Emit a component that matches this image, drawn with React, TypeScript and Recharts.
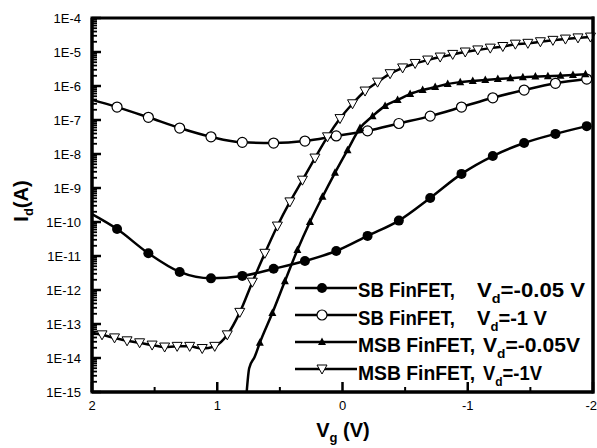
import React from 'react';
import { LineChart, Line, XAxis, YAxis, Legend, ReferenceArea } from 'recharts';

const FONT = '"Liberation Sans", Arial, sans-serif';

// gate voltage samples (V) and drain current (A)
const VG_SB = [2, 1.8, 1.55, 1.3, 1.05, 0.8, 0.55, 0.3, 0.05, -0.2, -0.45, -0.7, -0.95, -1.2, -1.45, -1.7, -1.95];
const ID_SB_005 = [1.7e-10, 6.2e-11, 1.2e-11, 3.4e-12, 2.2e-12, 2.6e-12, 4.2e-12, 7.1e-12, 1.4e-11, 3.9e-11, 1.1e-10, 5.1e-10, 2.6e-9, 8.7e-9, 2.1e-8, 3.9e-8, 6.6e-8];
const ID_SB_1 = [3.9e-7, 2.4e-7, 1.2e-7, 5.8e-8, 3.2e-8, 2.2e-8, 2.1e-8, 2.4e-8, 3.4e-8, 4.8e-8, 7.9e-8, 1.3e-7, 2.4e-7, 4.5e-7, 7.6e-7, 1.2e-6, 1.6e-6];

const VG_MSB_005 = [0.765, 0.745, 0.7, 0.66, 0.56, 0.46, 0.36, 0.26, 0.16, 0.06, -0.04, -0.14, -0.24, -0.34, -0.44, -0.54, -0.64, -0.74, -0.84, -0.94, -1.04, -1.14, -1.24, -1.34, -1.44, -1.54, -1.64, -1.74, -1.84, -1.94];
const ID_MSB_005 = [1e-15, 5e-15, 1.1e-14, 2.8e-14, 2.1e-13, 1.8e-12, 1.5e-11, 1.0e-10, 5.5e-10, 2.8e-9, 1.3e-8, 5.8e-8, 1.3e-7, 2.6e-7, 3.9e-7, 5.8e-7, 7.6e-7, 9.3e-7, 1.15e-6, 1.3e-6, 1.4e-6, 1.5e-6, 1.6e-6, 1.7e-6, 1.8e-6, 1.9e-6, 1.95e-6, 2.0e-6, 2.1e-6, 2.2e-6];

const VG_MSB_1 = [2, 1.92, 1.82, 1.72, 1.62, 1.52, 1.42, 1.32, 1.22, 1.12, 1.02, 0.92, 0.82, 0.72, 0.62, 0.52, 0.42, 0.32, 0.22, 0.12, 0.02, -0.08, -0.18, -0.28, -0.38, -0.48, -0.58, -0.68, -0.78, -0.88, -0.98, -1.08, -1.18, -1.28, -1.38, -1.48, -1.58, -1.68, -1.78, -1.88, -1.98];
const ID_MSB_1 = [5.5e-14, 4.8e-14, 3.9e-14, 3.2e-14, 2.8e-14, 2.4e-14, 2.1e-14, 2.2e-14, 2.2e-14, 1.9e-14, 2.2e-14, 4.8e-14, 2.2e-13, 1.7e-12, 1.2e-11, 7.6e-11, 3.9e-10, 1.7e-9, 7.6e-9, 3.2e-8, 1.1e-7, 3.0e-7, 7.1e-7, 1.3e-6, 2.3e-6, 3.4e-6, 4.6e-6, 5.8e-6, 7.1e-6, 8.5e-6, 1.0e-5, 1.15e-5, 1.3e-5, 1.45e-5, 1.7e-5, 1.8e-5, 2.0e-5, 2.2e-5, 2.4e-5, 2.6e-5, 2.75e-5];

const X_TICKS = [2, 1.5, 1, 0.5, 0, -0.5, -1, -1.5, -2];
const X_LABELS = [2, 1, 0, -1, -2];
const Y_DECADES = [-15, -14, -13, -12, -11, -10, -9, -8, -7, -6, -5, -4];
const Y_MINOR = [2, 3, 4, 5, 6, 7, 8, 9];

const Y_TICKS: number[] = [];
Y_DECADES.forEach((e) => {
  Y_TICKS.push(Math.pow(10, e));
  if (e < -4) Y_MINOR.forEach((m) => Y_TICKS.push(m * Math.pow(10, e)));
});

const toRows = (vg: number[], id: number[]) => vg.map((v, k) => ({ vg: v, id: id[k] }));

type Kind = 'disc' | 'circle' | 'tri' | 'itri';

function Marker({ kind, cx, cy }: { kind: Kind; cx: number; cy: number }) {
  if (kind === 'disc') return <circle cx={cx} cy={cy} r={5} fill="#000" />;
  if (kind === 'circle')
    return <circle cx={cx} cy={cy} r={5} fill="#fff" stroke="#000" strokeWidth={1.2} />;
  if (kind === 'tri')
    return <polygon points={`${cx},${cy - 4.5} ${cx - 4},${cy + 3} ${cx + 4},${cy + 3}`} fill="#000" />;
  return (
    <polygon
      points={`${cx - 5},${cy - 4} ${cx + 5},${cy - 4} ${cx},${cy + 5}`}
      fill="#fff"
      stroke="#000"
      strokeWidth={1}
    />
  );
}

// first `skip` points are line only, no marker
const dotFor = (kind: Kind, skip: number) => (p: any) => {
  const { cx, cy, index } = p;
  if (index < skip || cx == null || cy == null) return <g key={`n-${index}`} />;
  return (
    <g key={`m-${index}`}>
      <Marker kind={kind} cx={cx} cy={cy} />
    </g>
  );
};

const isDecade = (v: number) => {
  const l = Math.log10(v);
  return Math.abs(l - Math.round(l)) < 1e-6;
};

function YTick(props: any) {
  const { x, y, payload } = props;
  const major = isDecade(payload.value);
  return (
    <g>
      <line x1={x} x2={x + (major ? 9 : 5)} y1={y} y2={y} stroke="#000" strokeWidth={major ? 2.5 : 1.8} />
      {major && (
        <text x={81} y={y + 4.6} textAnchor="end" fontSize={13} fontFamily={FONT} fill="#000">
          {`1E${Math.round(Math.log10(payload.value))}`}
        </text>
      )}
    </g>
  );
}

function XTick(props: any) {
  const { x, y, payload } = props;
  const major = X_LABELS.includes(payload.value);
  const last = payload.value === -2;
  return (
    <g>
      <line x1={x} x2={x} y1={y} y2={y - (major ? 10 : 5)} stroke="#000" strokeWidth={major ? 2.5 : 2} />
      {major && (
        <text
          x={last ? 597 : x}
          y={y + 17.5}
          textAnchor={last ? 'end' : 'middle'}
          fontSize={13}
          fontFamily={FONT}
          fill="#000"
        >
          {payload.value}
        </text>
      )}
    </g>
  );
}

const LEGEND = [
  { kind: 'disc' as Kind, name: 'SB FinFET,', nameLen: 97, vx: 187, rest: '=-0.05 V', restLen: 108 },
  { kind: 'circle' as Kind, name: 'SB FinFET,', nameLen: 97, vx: 187, rest: '=-1 V', restLen: 70 },
  { kind: 'tri' as Kind, name: 'MSB FinFET,', nameLen: 117, vx: 193, rest: '=-0.05V', restLen: 97 },
  { kind: 'itri' as Kind, name: 'MSB FinFET,', nameLen: 117, vx: 193, rest: '=-1V', restLen: 59 },
];

function LegendBox() {
  return (
    <svg width={300} height={112} style={{ display: 'block', overflow: 'visible' }}>
      {/* right edge of the plot frame, drawn on the overlay so it stays on top */}
      <line x1={303} x2={303} y1={-258.5} y2={118.5} stroke="#000" strokeWidth={3} />
      {LEGEND.map((r, k) => {
        const ly = 13 + k * 27;
        const by = 22 + k * 27.5;
        return (
          <g key={k} fontFamily={FONT} fontWeight="bold" fill="#000">
            <line x1={5} x2={67} y1={ly} y2={ly} stroke="#000" strokeWidth={2.5} />
            <Marker kind={r.kind} cx={32} cy={ly} />
            <text x={68} y={by} fontSize={20} textLength={r.nameLen} lengthAdjust="spacingAndGlyphs">
              {r.name}
            </text>
            <text x={r.vx} y={by} fontSize={20} textLength={r.restLen} lengthAdjust="spacingAndGlyphs">
              V<tspan dy={6} fontSize={13}>d</tspan>
              <tspan dy={-6}>{r.rest}</tspan>
            </text>
          </g>
        );
      })}
    </svg>
  );
}

function XTitle() {
  return (
    <text x={343} y={437} textAnchor="middle" fontFamily={FONT} fontWeight="bold" fontSize={20} fill="#000">
      V<tspan dy={5} fontSize={13}>g</tspan>
      <tspan dy={-5}> (V)</tspan>
    </text>
  );
}

function YTitle() {
  return (
    <text
      transform="translate(28,201) rotate(-90)"
      textAnchor="middle"
      fontFamily={FONT}
      fontWeight="bold"
      fontSize={20}
      fill="#000"
    >
      I<tspan dy={5} fontSize={13}>d</tspan>
      <tspan dy={-5}>(A)</tspan>
    </text>
  );
}

export default function App() {
  const frame = { stroke: '#000', strokeWidth: 3 };
  return (
    <div style={{ position: 'absolute', left: 0, top: 0, width: 597, height: 448, background: '#fff' }}>
      <LineChart width={597} height={448} margin={{ top: 18, right: 4, left: 0, bottom: 0 }}>
        <XAxis
          dataKey="vg"
          type="number"
          domain={[-2, 2]}
          reversed
          ticks={X_TICKS}
          interval={0}
          height={56}
          tickLine={false}
          tickSize={0}
          tickMargin={0}
          tick={<XTick />}
          axisLine={frame}
          label={<XTitle />}
        />
        <YAxis
          type="number"
          scale="log"
          domain={[1e-15, 1e-4]}
          allowDataOverflow
          ticks={Y_TICKS}
          interval={0}
          width={92}
          tickLine={false}
          tickSize={0}
          tickMargin={0}
          tick={<YTick />}
          axisLine={frame}
          label={<YTitle />}
        />
        <ReferenceArea
          x1={2}
          x2={-2}
          y1={1e-15}
          y2={1e-4}
          fill="none"
          fillOpacity={0}
          stroke="#000"
          strokeWidth={3}
          ifOverflow="visible"
        />
        <Legend
          layout="vertical"
          align="center"
          verticalAlign="middle"
          content={() => <LegendBox />}
          wrapperStyle={{ position: 'absolute', left: 290, top: 275, width: 300, height: 112 }}
        />
        <Line data={toRows(VG_SB, ID_SB_005)} dataKey="id" type="monotone" stroke="#000" strokeWidth={2.5} dot={dotFor('disc', 1)} activeDot={false} isAnimationActive={false} />
        <Line data={toRows(VG_SB, ID_SB_1)} dataKey="id" type="monotone" stroke="#000" strokeWidth={2.5} dot={dotFor('circle', 1)} activeDot={false} isAnimationActive={false} />
        <Line data={toRows(VG_MSB_005, ID_MSB_005)} dataKey="id" type="monotone" stroke="#000" strokeWidth={2.5} dot={dotFor('tri', 3)} activeDot={false} isAnimationActive={false} />
        <Line data={toRows(VG_MSB_1, ID_MSB_1)} dataKey="id" type="monotone" stroke="#000" strokeWidth={2.5} dot={dotFor('itri', 1)} activeDot={false} isAnimationActive={false} />
      </LineChart>
    </div>
  );
}
